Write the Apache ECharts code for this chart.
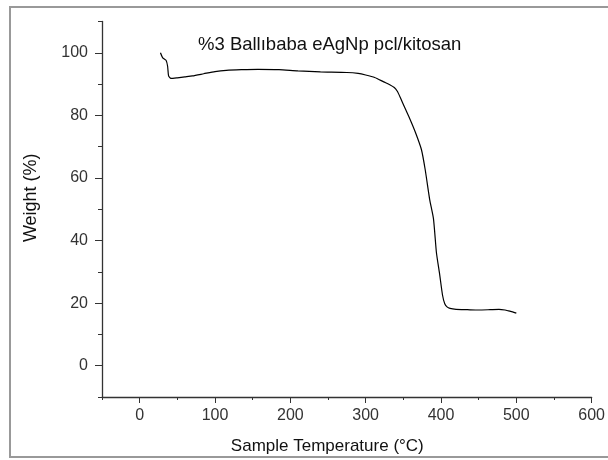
<!DOCTYPE html>
<html>
<head>
<meta charset="utf-8">
<script src="https://cdn.jsdelivr.net/npm/echarts@6/dist/echarts.min.js"></script>
<style>
  html, body { margin: 0; padding: 0; background: #fff; }
  #chart { width: 608px; height: 460px; }
</style>
</head>
<body>
<div id="chart"></div>
<script>
// TGA curve: sample temperature (°C) vs. remaining weight (%)
const temperature = [27.6, 30.6, 35, 37.1, 38.4, 41.5, 50, 60, 70, 85, 100, 115, 135, 157, 185, 210, 240, 275, 290, 300, 312, 324, 332, 338, 342, 346, 352, 359, 366, 374, 379, 385, 390, 394, 398, 402, 405, 408, 412, 420, 435, 450, 465, 477, 485, 490, 495, 500];
const weight      = [100, 98.4, 97.6, 95.7, 92.6, 91.8, 92.0, 92.3, 92.6, 93.3, 94.0, 94.4, 94.6, 94.7, 94.6, 94.2, 93.9, 93.7, 93.4, 92.9, 92.1, 90.7, 89.8, 88.9, 87.7, 85.7, 82.4, 78.7, 74.6, 69.1, 62.7, 53.1, 47.0, 36.0, 29.6, 22.6, 19.8, 18.8, 18.3, 18.0, 17.9, 17.8, 17.9, 18.0, 17.8, 17.5, 17.2, 16.8];

const xMajorTicks = [0, 100, 200, 300, 400, 500, 600];
const xMinorTicks = [-50, 50, 150, 250, 350, 450, 550];
const yMajorTicks = [0, 20, 40, 60, 80, 100];
const yMinorTicks = [-10, 10, 30, 50, 70, 90, 110];

const chartTitle = '%3 Ballıbaba eAgNp pcl/kitosan';
const xTitle = 'Sample Temperature (°C)';
const yTitle = 'Weight (%)';

const FONT = '"Liberation Sans", Arial, sans-serif';
const AXIS_COLOR = '#333';

const points = temperature.map((t, i) => [t, weight[i]]);

const chart = echarts.init(document.getElementById('chart'), null, { renderer: 'canvas' });
chart.setOption({
  animation: false,
  backgroundColor: '#fff',
  title: {
    text: chartTitle,
    left: 198,
    top: 35,
    padding: 0,
    textStyle: { fontFamily: FONT, fontSize: 18.5, fontWeight: 'normal', color: '#111' }
  },
  graphic: [{
    type: 'rect',
    shape: { x: 10, y: 7, width: 640, height: 450 },
    style: { fill: 'none', stroke: '#999', lineWidth: 2 },
    silent: true
  }],
  grid: { left: 102, right: 11, top: 21.5, bottom: 62.3 },
  xAxis: [{
    type: 'value',
    min: -50, max: 600,
    position: 'bottom',
    name: xTitle,
    nameLocation: 'middle',
    nameGap: 41,
    nameTextStyle: { fontFamily: FONT, fontSize: 17, color: '#111', padding: [0, 39, 0, 0] },
    axisLine: { show: true, onZero: false, lineStyle: { color: AXIS_COLOR, width: 1.3 } },
    axisTick: { show: true, length: 6, customValues: xMajorTicks, lineStyle: { color: AXIS_COLOR } },
    axisLabel: { customValues: xMajorTicks, margin: 11, fontFamily: FONT, fontSize: 16, color: '#333', showMinLabel: true, showMaxLabel: true },
    splitLine: { show: false }
  }, {
    type: 'value',
    min: -50, max: 600,
    position: 'bottom',
    axisLine: { show: false, onZero: false },
    axisTick: { show: true, length: 3, customValues: xMinorTicks, lineStyle: { color: AXIS_COLOR } },
    axisLabel: { show: false },
    splitLine: { show: false }
  }],
  yAxis: [{
    type: 'value',
    min: -10, max: 110,
    position: 'left',
    name: yTitle,
    nameLocation: 'middle',
    nameGap: 62,
    nameRotate: 90,
    nameTextStyle: { fontFamily: FONT, fontSize: 18, color: '#111', padding: [0, 0, 0, 23] },
    axisLine: { show: true, onZero: false, lineStyle: { color: AXIS_COLOR, width: 1.3 } },
    axisTick: { show: true, length: 7, customValues: yMajorTicks, lineStyle: { color: AXIS_COLOR } },
    axisLabel: { customValues: yMajorTicks, margin: 14, fontFamily: FONT, fontSize: 16, color: '#333' },
    splitLine: { show: false }
  }, {
    type: 'value',
    min: -10, max: 110,
    position: 'left',
    axisLine: { show: false, onZero: false },
    axisTick: { show: true, length: 4, customValues: yMinorTicks, lineStyle: { color: AXIS_COLOR } },
    axisLabel: { show: false },
    splitLine: { show: false }
  }],
  series: [{
    type: 'line',
    data: points,
    xAxisIndex: 0,
    yAxisIndex: 0,
    showSymbol: false,
    smooth: 0.2,
    lineStyle: { color: '#000', width: 1.2 }
  }]
});
</script>
</body>
</html>
